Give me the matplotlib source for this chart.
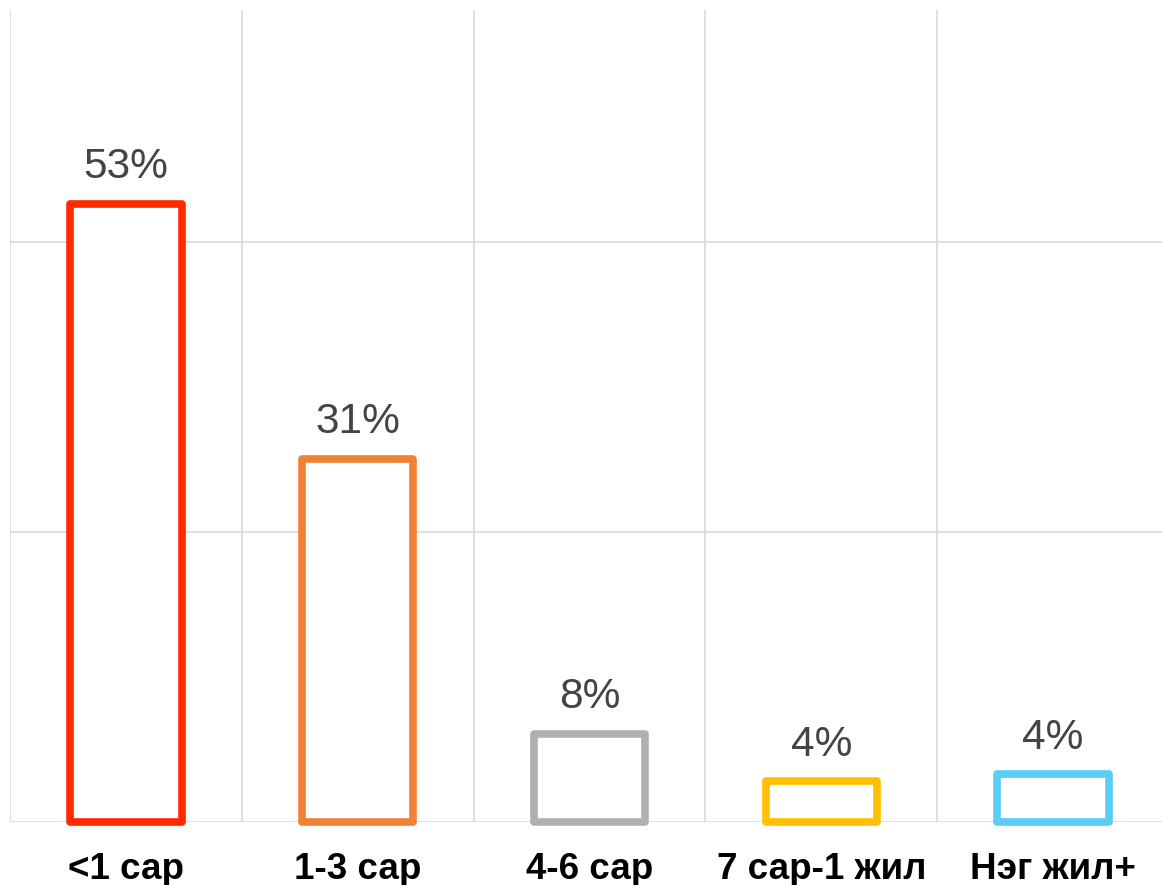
import numpy as np
import matplotlib.pyplot as plt

# data
categories = ['<1 сар', '1-3 сар', '4-6 сар', '7 сар-1 жил', 'Нэг жил+']
values = [53.3, 31.3, 7.6, 3.5, 4.1]
labels = ['53%', '31%', '8%', '4%', '4%']
colors = ['#FF2A00', '#F08236', '#B0B0B0', '#FFC000', '#5BCDF5']

plt.rcParams['font.family'] = ['Liberation Sans', 'DejaVu Sans']

fig = plt.figure(figsize=(11.62, 8.85), dpi=100)
# axes runs a bit past the right edge, like in the original
ax = fig.add_axes([10 / 1162, 63 / 885, 1159 / 1162, 812 / 885])

x = np.arange(len(categories))
bars = ax.bar(x, values, width=0.48, facecolor='white', edgecolor=colors,
              linewidth=5.5, joinstyle='round', zorder=3, clip_on=False)

for xi, v, lab in zip(x, values, labels):
    ax.annotate(lab, (xi, v), xytext=(0, 12), textcoords='offset points',
                ha='center', va='bottom', fontsize=30.5, color='#444444')

ax.set_xlim(-0.5, len(categories) - 0.5)
ax.set_ylim(0, 70)
ax.set_yticks([0, 25, 50])
ax.set_yticklabels([])
ax.set_xticks(x)
ax.set_xticklabels(categories, fontsize=26.5, fontweight='bold', color='black')
ax.set_xticks(np.arange(-0.5, len(categories), 1), minor=True)
ax.tick_params(axis='both', which='both', length=0)
ax.tick_params(axis='x', which='major', pad=21.5)

ax.grid(axis='y', which='major', color='#d9d9d9', linewidth=1.2, zorder=0)
ax.grid(axis='x', which='minor', color='#d9d9d9', linewidth=1.2, zorder=0)
ax.grid(axis='x', which='major', visible=False)

for s in ax.spines.values():
    s.set_visible(False)

plt.savefig('out.png', dpi=100)
